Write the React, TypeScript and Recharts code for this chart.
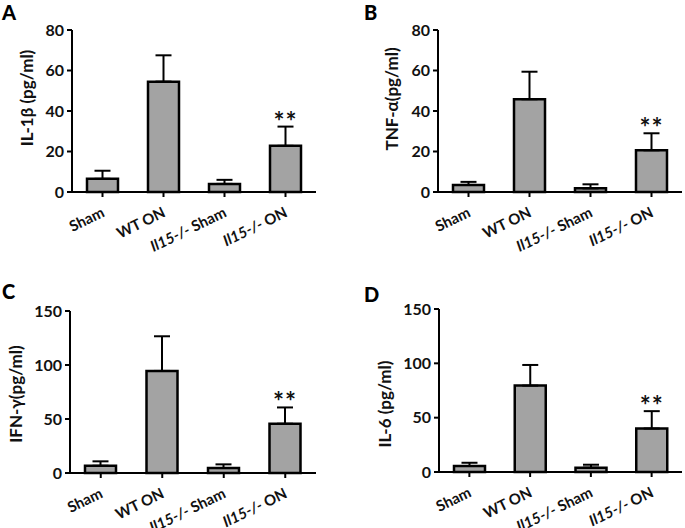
import React from "react";
import { Bar, BarChart, ErrorBar, LabelList, XAxis, YAxis } from "recharts";

const categories = ["Sham", "WT ON", "Il15-/- Sham", "Il15-/- ON"];
const significance = ["", "", "", "**"];

const il1bMean = [6.5, 54.5, 4, 22.8];
const il1bSem = [4, 13, 2, 9.5];
const tnfMean = [3.5, 45.8, 1.8, 20.6];
const tnfSem = [1.5, 13.6, 2, 8.4];
const ifnMean = [6.7, 94.5, 4.6, 45.6];
const ifnSem = [4.1, 32.1, 3.4, 15.1];
const il6Mean = [5.5, 79.5, 4, 40];
const il6Sem = [3, 19, 2.7, 16];

const ticks80 = [0, 20, 40, 60, 80];
const ticks150 = [0, 50, 100, 150];

const FONT = "Lato, 'Open Sans', sans-serif";

function buildRows(mean: number[], sem: number[]) {
  return categories.map((name, i) => ({
    name,
    mean: mean[i],
    err: [0, sem[i]],
    sig: significance[i]
  }));
}

// slanted category label, genotype part in italics
function renderXTick(props: any) {
  const { x, y, payload } = props;
  const label: string = payload.value;
  const italic = label.startsWith("Il15");
  const rest = italic ? label.slice(7) : label;
  const ax = x + 3;
  const ay = y + 17;
  return (
    <text
      key={label}
      x={ax}
      y={ay}
      transform={`rotate(-26, ${ax}, ${ay})`}
      textAnchor="end"
      fontFamily={FONT}
      fontWeight={700}
      fontSize={15}
      fill="#111"
    >
      {italic && <tspan fontStyle="italic">Il15-/-</tspan>}
      {rest}
    </text>
  );
}

type PanelProps = {
  letter: string;
  label: string;
  mean: number[];
  sem: number[];
  max: number;
  ticks: number[];
  left: number;
  top: number;
  width: number;
  axisWidth: number;
  marginTop: number;
  marginRight: number;
  xHeight: number;
  labelX: number;
  labelY: number;
  letterX: number;
  letterY: number;
};

function Panel(p: PanelProps) {
  const rows = buildRows(p.mean, p.sem);
  return (
    <>
      <div
        style={{
          position: "absolute",
          left: p.letterX,
          top: p.letterY,
          fontFamily: FONT,
          fontWeight: 900,
          fontSize: 20,
          lineHeight: "20px"
        }}
      >
        {p.letter}
      </div>
      <div style={{ position: "absolute", left: p.left, top: p.top }}>
        <BarChart
          width={p.width}
          height={264}
          data={rows}
          margin={{ top: p.marginTop, right: p.marginRight, bottom: 0, left: 0 }}
          barSize={31}
        >
          <XAxis
            dataKey="name"
            height={p.xHeight}
            interval={0}
            tickSize={5}
            tickMargin={2}
            axisLine={{ stroke: "#000", strokeWidth: 2 }}
            tickLine={{ stroke: "#000", strokeWidth: 2 }}
            tick={renderXTick}
          />
          <YAxis
            width={p.axisWidth}
            domain={[0, p.max]}
            ticks={p.ticks}
            tickSize={5}
            tickMargin={3}
            axisLine={{ stroke: "#000", strokeWidth: 2 }}
            tickLine={{ stroke: "#000", strokeWidth: 2 }}
            tick={{ fontFamily: FONT, fontWeight: 700, fontSize: 16, fill: "#111" }}
            label={{
              value: p.label,
              content: () => (
                <text
                  transform={`translate(${p.labelX},${p.labelY}) rotate(-90)`}
                  textAnchor="middle"
                  dy="0.35em"
                  fontFamily={FONT}
                  fontWeight={700}
                  fontSize={17}
                  fill="#111"
                >
                  {p.label}
                </text>
              )
            }}
          />
          <Bar
            dataKey="mean"
            fill="#a3a3a3"
            stroke="#000"
            strokeWidth={2.5}
            isAnimationActive={false}
          >
            <ErrorBar dataKey="err" width={8} stroke="#000" strokeWidth={2} direction="y" />
            <LabelList
              dataKey="sig"
              content={(lp: any) => {
                const { x, y, width, height, value, index } = lp;
                if (!value) return null;
                const scale = height / p.mean[index];
                const topY = y - p.sem[index] * scale;
                return (
                  <text
                    x={x + width / 2}
                    y={topY + 4}
                    textAnchor="middle"
                    fontFamily={FONT}
                    fontWeight={700}
                    fontSize={26}
                    letterSpacing={1}
                    fill="#111"
                  >
                    {value}
                  </text>
                );
              }}
            />
          </Bar>
        </BarChart>
      </div>
    </>
  );
}

export default function App() {
  return (
    <div
      style={{
        position: "absolute",
        left: 0,
        top: 0,
        width: 685,
        height: 528,
        background: "#fff",
        overflow: "hidden"
      }}
    >
      <Panel
        letter="A"
        label="IL-1β (pg/ml)"
        mean={il1bMean}
        sem={il1bSem}
        max={80}
        ticks={ticks80}
        left={0}
        top={0}
        width={342}
        axisWidth={72}
        marginTop={30}
        marginRight={26}
        xHeight={72}
        labelX={27}
        labelY={98}
        letterX={2}
        letterY={2}
      />
      <Panel
        letter="B"
        label="TNF-α(pg/ml)"
        mean={tnfMean}
        sem={tnfSem}
        max={80}
        ticks={ticks80}
        left={342}
        top={0}
        width={343}
        axisWidth={96}
        marginTop={30}
        marginRight={3}
        xHeight={72}
        labelX={50}
        labelY={99}
        letterX={364}
        letterY={2}
      />
      <Panel
        letter="C"
        label="IFN-γ(pg/ml)"
        mean={ifnMean}
        sem={ifnSem}
        max={150}
        ticks={ticks150}
        left={0}
        top={264}
        width={342}
        axisWidth={70}
        marginTop={47}
        marginRight={26}
        xHeight={55}
        labelX={16}
        labelY={130}
        letterX={2}
        letterY={281}
      />
      <Panel
        letter="D"
        label="IL-6 (pg/ml)"
        mean={il6Mean}
        sem={il6Sem}
        max={150}
        ticks={ticks150}
        left={342}
        top={264}
        width={343}
        axisWidth={97}
        marginTop={45}
        marginRight={3}
        xHeight={56}
        labelX={43}
        labelY={140}
        letterX={364}
        letterY={284}
      />
    </div>
  );
}
